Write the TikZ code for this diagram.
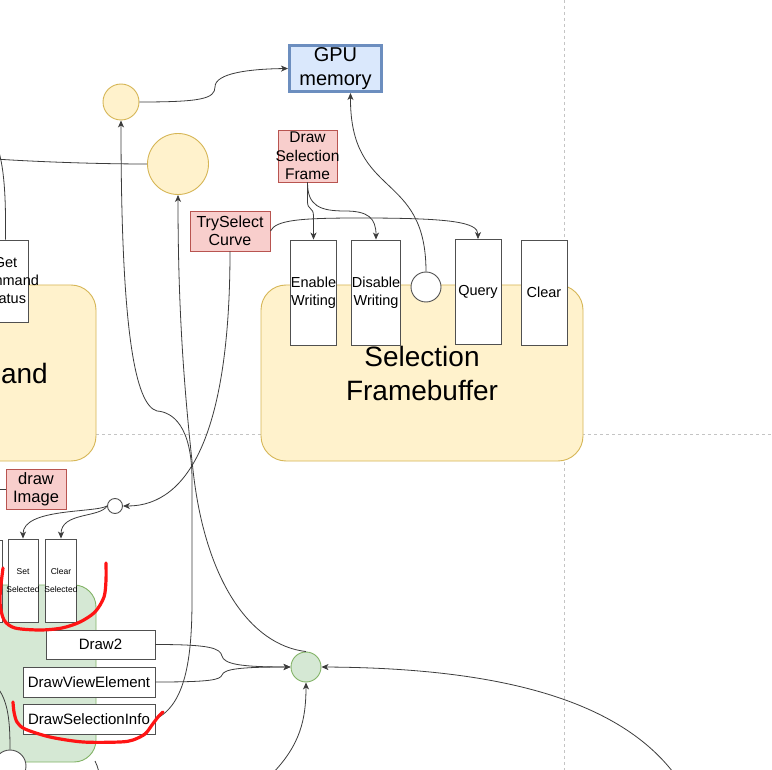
\documentclass[tikz,border=0pt]{standalone}
\usepackage{fontspec}
\setmainfont{Liberation Sans}
\usetikzlibrary{arrows.meta,calc}
\definecolor{yfill}{HTML}{FFF2CC}
\definecolor{ydraw}{HTML}{D6B656}
\definecolor{gfill}{HTML}{D5E8D4}
\definecolor{gdraw}{HTML}{82B366}
\definecolor{pfill}{HTML}{F8CECC}
\definecolor{pdraw}{HTML}{B85450}
\definecolor{bfill}{HTML}{DAE8FC}
\definecolor{bdraw}{HTML}{6C8EBF}
\definecolor{dashc}{HTML}{C4C4C4}
\definecolor{linec}{HTML}{3C3C3C}
\definecolor{boxc}{HTML}{505050}
\definecolor{redc}{HTML}{FF1414}
\newcommand\fsz[2]{\fontsize{#1}{#2}\selectfont}
\newcommand\zw[1]{\makebox[0pt]{#1}}
\begin{document}
\begin{tikzpicture}[x=1pt,y=-1pt,
  wbox/.style={draw=boxc, fill=white, line width=0.9pt, inner sep=0pt, align=center},
  pbox/.style={draw=pdraw, fill=pfill, line width=0.9pt, inner sep=0pt, align=center},
  ycont/.style={draw=ydraw, fill=yfill, line width=0.9pt, rounded corners=25pt, inner sep=0pt, align=center},
  gcont/.style={draw=gdraw, fill=gfill, line width=0.9pt, rounded corners=22pt, inner sep=0pt},
  ycirc/.style={circle, draw=ydraw, fill=yfill, line width=0.9pt, inner sep=0pt},
  gcirc/.style={circle, draw=gdraw, fill=gfill, line width=0.9pt, inner sep=0pt},
  wcirc/.style={circle, draw=boxc, fill=white, line width=0.9pt, inner sep=0pt},
  conn/.style={draw=linec, line width=0.8pt},
  arr/.style={conn, -{Stealth[length=7pt,width=6pt,inset=2pt]}},
  grid/.style={draw=dashc, line width=1pt, dash pattern=on 3pt off 3pt},
  redmark/.style={draw=redc, line width=3.2pt, line cap=round, line join=round}
]
\useasboundingbox (0,0) rectangle (772,770);
\clip (0,0) rectangle (772,770);
\fill[white] (0,0) rectangle (772,770);

% dashed guide lines
\coordinate (vtop) at (564,0);
\coordinate (vbot) at (564,770);
\coordinate (hl) at (0,434);
\coordinate (hr) at (772,434);
\draw[grid] (vtop) -- (vbot);
\draw[grid] (hl) -- (hr);

% containers
\node[ycont, minimum width=296pt, minimum height=176pt] (cmdc) at (-52,373) {};
\node[font=\fsz{28}{34}, anchor=base east, inner sep=0pt] (cmdlabel) at (48,384) {Command};
\node[ycont, minimum width=322pt, minimum height=176pt, font=\fsz{28}{34}] (selfb) at (422,373) {Selection\\Framebuffer};
\node[gcont, minimum width=296pt, minimum height=177pt] (gcontn) at (-52,673.5) {};

% circles
\node[ycirc, minimum size=36pt] (yc1) at (121,102) {};
\node[ycirc, minimum size=61pt] (yc2) at (178,164) {};
\node[wcirc, minimum size=30pt] (wc1) at (426,287) {};
\node[wcirc, minimum size=15pt] (wc2) at (115,506) {};
\node[gcirc, minimum size=30pt] (gc) at (306,667) {};
\node[wcirc, minimum size=32pt] (wc3) at (10,766) {};

% GPU memory
\node[draw=bdraw, fill=bfill, line width=3pt, inner sep=0pt, align=center,
      minimum width=92pt, minimum height=46pt, font=\fsz{20}{24}] (gpu) at (335.5,68.5) {GPU\\memory};

% pink boxes
\node[pbox, minimum width=59pt, minimum height=52pt, font=\fsz{15.5}{18.5}] (dsf) at (307.5,156) {Draw\\\zw{Selection}\\Frame};
\node[pbox, minimum width=80pt, minimum height=40pt, font=\fsz{16}{18}] (trysel) at (230,231) {TrySelect\\Curve};
\node[pbox, minimum width=60pt, minimum height=40pt, font=\fsz{16.5}{18}] (dimg) at (36,489) {draw\\Image};

% white boxes
\node[wbox, minimum width=45pt, minimum height=82pt, font=\fsz{14.5}{18}] (gcs) at (5.5,281) {Get\\\zw{Command}\\Status};
\node[wbox, minimum width=45pt, minimum height=105pt, font=\fsz{14.5}{18}] (enable) at (313.5,292.5) {Enable\\Writing};
\node[wbox, minimum width=46pt, minimum height=105pt, font=\fsz{14.5}{18}] (disable) at (376,292.5) {Disable\\Writing};
\node[wbox, minimum width=46pt, minimum height=105pt, font=\fsz{14.5}{18}] (query) at (478,292) {Query};
\node[wbox, minimum width=46pt, minimum height=105pt, font=\fsz{14.5}{18}] (clearb) at (544,292.5) {Clear};
\node[wbox, minimum width=32pt, minimum height=82pt] (lbox) at (-14,581) {};
\node[wbox, minimum width=30pt, minimum height=83pt, font=\fsz{8.5}{18}] (setsel) at (23,580.5) {Set\\\zw{Selected}};
\node[wbox, minimum width=31pt, minimum height=83pt, font=\fsz{8.5}{18}] (clrsel) at (61,580.5) {Clear\\\zw{Selected}};
\node[wbox, minimum width=109pt, minimum height=29pt, font=\fsz{15}{18}] (draw2) at (100.5,644.5) {Draw2};
\node[wbox, minimum width=132pt, minimum height=30pt, font=\fsz{15}{18}] (dve) at (89,682) {DrawViewElement};
\node[wbox, minimum width=132pt, minimum height=30pt, font=\fsz{15}{18}] (dsi) at (89,719) {DrawSelectionInfo};

% off-picture coordinates
\coordinate (lft1) at (-5,159);
\coordinate (lft2) at (-3,146);
\coordinate (lft3) at (-5,489);
\coordinate (lb) at (-4,686);
\coordinate (br) at (676,776);
\coordinate (bm) at (272,774);
\coordinate (gb) at (100,776);
\coordinate (gcr) at (95,761);

% connectors
\draw[arr] (yc1.east) .. controls (200,102) and (215,99) .. (215,87) .. controls (215,73) and (250,69) .. (gpu.west);
\draw[conn] (yc2.west) .. controls (100,164) and (40,162) .. (lft1);
\draw[arr] (wc1.north) .. controls (426,170) and (350,200) .. ($(gpu.south)+(15,0)$);
\draw[arr] (dsf.south) -- (307.5,202) .. controls (307.5,210) and (313.5,207) .. (313.5,216) -- (enable.north);
\draw[arr] (dsf.south) .. controls (307.5,206) and (320,211) .. (345,211) .. controls (368,211) and (376,218) .. (disable.north);
\draw[arr] (trysel.east) .. controls (276,220) and (300,218) .. (360,218) .. controls (450,218) and (478,222) .. (query.north);
\draw[arr] (trysel.south) .. controls (230,430) and (190,506) .. (wc2.east);
\draw[arr] (wc2.west) .. controls (95,513) and (23,508) .. (setsel.north);
\draw[arr] (wc2.west) .. controls (100,518) and (61,512) .. (clrsel.north);
\draw[arr] (dsi.east) .. controls (185,705) and (192,660) .. (192,600) -- (192,480) .. controls (192,425) and (172,412) .. (157,411) .. controls (135,405) and (121,330) .. (yc1.south);
\draw[arr] (gc.north) .. controls (250,645) and (205,580) .. (193,470) .. controls (183,380) and (178,300) .. (yc2.south);
\draw[arr] (draw2.east) .. controls (210,644.5) and (220,648) .. (222,656) .. controls (224,664) and (240,667) .. (gc.west);
\draw[arr] (dve.east) .. controls (210,682) and (220,680) .. (222,675) .. controls (224,669) and (240,667) .. (gc.west);
\draw[arr] (br) .. controls (620,700) and (500,668) .. (gc.east);
\draw[arr] (bm) .. controls (300,745) and (306,720) .. (gc.south);
\draw[conn] (gcs.north) .. controls (6,195) and (4,165) .. (lft2);
\draw[conn] (dimg.west) -- (lft3);
\draw[conn] (lb) .. controls (9,700) and (10,725) .. (wc3.north);
\draw[conn] (gcr) .. controls (97,765) .. (gb);

% red annotations
\draw[redmark] plot[smooth] coordinates {(3,568) (1,585) (0,603) (4,620) (15,628) (40,630) (62,628) (80,622) (95,612) (104,597) (106,580) (106,563)};
\draw[redmark] plot[smooth] coordinates {(13,702) (14,712) (17,722) (25,729) (50,737) (83,742) (120,742) (133,740) (145,734) (152,725) (158,717) (163,712)};
\end{tikzpicture}
\end{document}
